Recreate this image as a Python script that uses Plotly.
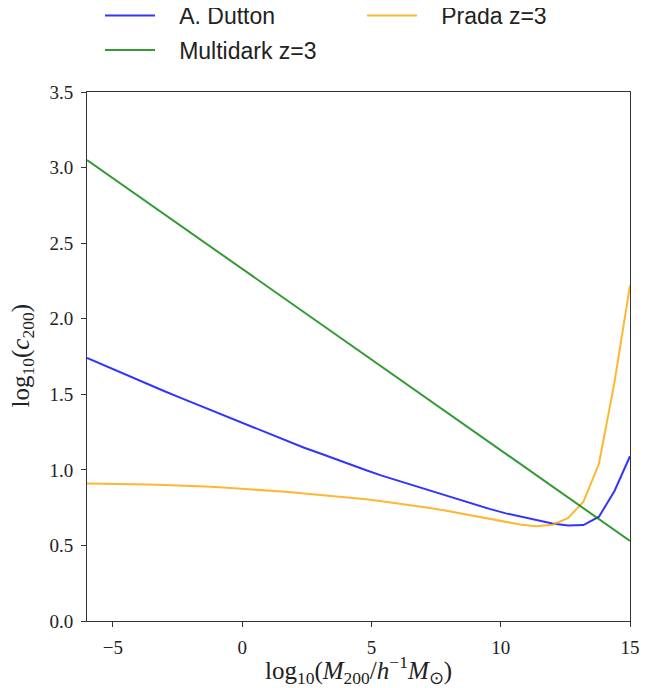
import plotly.graph_objects as go

log_mass = [-6.0, -5.4, -4.8, -4.2, -3.6, -3.0, -2.4, -1.8, -1.2, -0.6, 0.0, 0.6,
            1.2, 1.8, 2.4, 3.0, 3.6, 4.2, 4.8, 5.4, 6.0, 6.6, 7.2, 7.8, 8.4, 9.0,
            9.6, 10.2, 10.8, 11.4, 12.0, 12.6, 13.2, 13.8, 14.4, 15.0]

dutton = [1.74, 1.695, 1.65, 1.605, 1.56, 1.52, 1.478, 1.436, 1.394, 1.352, 1.31, 1.268,
          1.226, 1.184, 1.146, 1.11, 1.071, 1.033, 0.997, 0.962, 0.93, 0.897, 0.864, 0.831,
          0.80, 0.77, 0.74, 0.712, 0.688, 0.665, 0.645, 0.632, 0.635, 0.69, 0.86, 1.09]

prada = [0.91, 0.909, 0.907, 0.905, 0.903, 0.90, 0.897, 0.893, 0.888, 0.882, 0.876, 0.869,
         0.861, 0.853, 0.844, 0.835, 0.826, 0.816, 0.805, 0.793, 0.78, 0.765, 0.749, 0.732,
         0.714, 0.695, 0.675, 0.655, 0.637, 0.627, 0.637, 0.68, 0.79, 1.04, 1.58, 2.22]

multidark = [3.05, 2.978, 2.906, 2.834, 2.762, 2.69, 2.618, 2.546, 2.474, 2.402, 2.33, 2.258,
             2.186, 2.114, 2.042, 1.97, 1.898, 1.826, 1.754, 1.682, 1.61, 1.538, 1.466, 1.394,
             1.322, 1.25, 1.178, 1.106, 1.034, 0.962, 0.89, 0.818, 0.746, 0.674, 0.602, 0.53]

x_ticks = [-5, 0, 5, 10, 15]
y_ticks = [0.0, 0.5, 1.0, 1.5, 2.0, 2.5, 3.0, 3.5]

x_title = "log<sub>10</sub>(<i>M</i><sub>200</sub>/<i>h</i><sup>−1</sup><i>M</i><sub>⊙</sub>)"
y_title = "log<sub>10</sub>(<i>c</i><sub>200</sub>)"

SERIF = "Liberation Serif"
SANS = "Liberation Sans"
GAP = "\u00a0\u00a0\u00a0"

fig = go.Figure()
fig.add_trace(go.Scatter(x=log_mass, y=dutton, mode="lines", name=GAP + "A. Dutton", legend="legend",
                         line=dict(color="rgba(0,0,255,0.8)", width=2)))
fig.add_trace(go.Scatter(x=log_mass, y=prada, mode="lines", name=GAP + "Prada z=3", legend="legend2",
                         line=dict(color="rgba(255,165,0,0.8)", width=2)))
fig.add_trace(go.Scatter(x=log_mass, y=multidark, mode="lines", name=GAP + "Multidark z=3", legend="legend3",
                         line=dict(color="rgba(0,128,0,0.8)", width=2)))

axis_common = dict(showgrid=False, zeroline=False, showline=True, mirror=True,
                   linecolor="#333", linewidth=1, ticks="outside", ticklen=5,
                   tickcolor="#333", automargin=False, ticklabelstandoff=4,
                   tickfont=dict(family=SERIF, size=19, color="#222"))

leg_common = dict(xref="container", yref="container", xanchor="left", yanchor="middle",
                  font=dict(family=SANS, size=23, color="#222"), itemwidth=50,
                  bgcolor="rgba(0,0,0,0)", borderwidth=0)

W, H = 652, 688
L, R, T, B = 79, 30, 84, 75
PW, PH = W - L - R, H - T - B

fig.update_layout(
    width=W, height=H,
    margin=dict(l=L, r=R, t=T, b=B, autoexpand=False),
    paper_bgcolor="white", plot_bgcolor="white",
    showlegend=True,
    legend=dict(x=92 / W, y=1 - 7.5 / H, **leg_common),
    legend2=dict(x=354 / W, y=1 - 7.5 / H, **leg_common),
    legend3=dict(x=92 / W, y=1 - 42 / H, **leg_common),
    xaxis=dict(range=[-6, 15], tickvals=x_ticks, **axis_common),
    yaxis=dict(range=[0, 3.5], tickvals=y_ticks, tickformat=".1f", **axis_common),
    annotations=[
        dict(text=x_title, xref="paper", yref="paper", x=0.5, y=-(662 - (H - B)) / PH,
             xanchor="center", yanchor="middle", showarrow=False,
             font=dict(family=SERIF, size=25, color="#222")),
        dict(text=y_title, xref="paper", yref="paper", x=-(L - 14) / PW, y=0.5,
             xanchor="center", yanchor="middle", showarrow=False, textangle=-90,
             font=dict(family=SERIF, size=25, color="#222")),
    ],
)

fig.write_html("out.html")
